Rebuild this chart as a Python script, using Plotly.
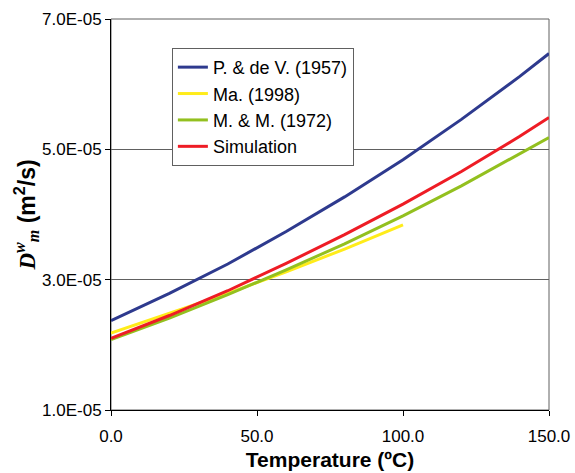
import plotly.graph_objects as go

# Temperature grid (ºC)
temp = [0, 20, 40, 60, 80, 100, 120, 140, 150]
temp_ma = [0, 20, 40, 60, 80, 100]

# Water vapour diffusivity D^w_m (m²/s)
pdv_1957 = [2.37e-5, 2.79e-5, 3.24e-5, 3.74e-5, 4.27e-5, 4.84e-5, 5.46e-5, 6.12e-5, 6.47e-5]
ma_1998 = [2.18e-5, 2.48e-5, 2.79e-5, 3.12e-5, 3.47e-5, 3.84e-5]
mm_1972 = [2.08e-5, 2.41e-5, 2.77e-5, 3.15e-5, 3.55e-5, 3.98e-5, 4.44e-5, 4.93e-5, 5.18e-5]
simulation = [2.10e-5, 2.45e-5, 2.83e-5, 3.25e-5, 3.69e-5, 4.16e-5, 4.66e-5, 5.20e-5, 5.49e-5]

y_ticks = [1e-5, 3e-5, 5e-5, 7e-5]
y_tick_labels = ["1.0E-05", "3.0E-05", "5.0E-05", "7.0E-05"]
x_ticks = [0, 50, 100, 150]
x_tick_labels = ["0.0", "50.0", "100.0", "150.0"]

series = [
    ("P. & de V. (1957)", temp, pdv_1957, "#2E3A8E"),
    ("Ma. (1998)", temp_ma, ma_1998, "#FFEC1A"),
    ("M. & M. (1972)", temp, mm_1972, "#93C01F"),
    ("Simulation", temp, simulation, "#EE1C25"),
]

fig = go.Figure()
for name, xs, ys, color in series:
    fig.add_trace(go.Scatter(x=xs, y=ys, mode="lines", name=name,
                             line=dict(color=color, width=3)))

fig.update_layout(
    width=575, height=473,
    margin=dict(l=111, r=26, t=19, b=63),
    paper_bgcolor="white", plot_bgcolor="white",
    font=dict(family="Liberation Sans, Arial, sans-serif", color="black"),
    showlegend=True,
    legend=dict(x=0.139, y=0.926, xanchor="left", yanchor="top",
                bgcolor="white", bordercolor="#606060", borderwidth=1,
                font=dict(size=18, family="Liberation Sans, Arial, sans-serif"),
                tracegroupgap=0),
    shapes=[dict(type="rect", xref="paper", yref="paper", x0=0, y0=0, x1=1, y1=1,
                 line=dict(color="#606060", width=1), layer="below")],
)

fig.update_xaxes(
    range=[0, 150], tickvals=x_ticks, ticktext=x_tick_labels,
    showgrid=False, zeroline=False, automargin=False,
    showline=True, linecolor="black", linewidth=1,
    ticks="outside", ticklen=5, tickcolor="black",
    tickfont=dict(size=17), ticklabelstandoff=6,
    title=dict(text="<b>Temperature (ºC)</b>", font=dict(size=21), standoff=6),
)

fig.update_yaxes(
    range=[1e-5, 7e-5], tickvals=y_ticks, ticktext=y_tick_labels,
    showgrid=True, gridcolor="#606060", gridwidth=1, zeroline=False, automargin=False,
    showline=True, linecolor="black", linewidth=1,
    ticks="outside", ticklen=5, tickcolor="black",
    tickfont=dict(size=17),
    title=dict(
        text='<b><i><span style="font-family:Liberation Serif, Times New Roman, serif">D'
             '<sup>w</sup><sub>m</sub></span></i></b> <b>(m<sup>2</sup>/s)</b>',
        font=dict(size=23), standoff=0),
)

fig.write_html("out.html")
